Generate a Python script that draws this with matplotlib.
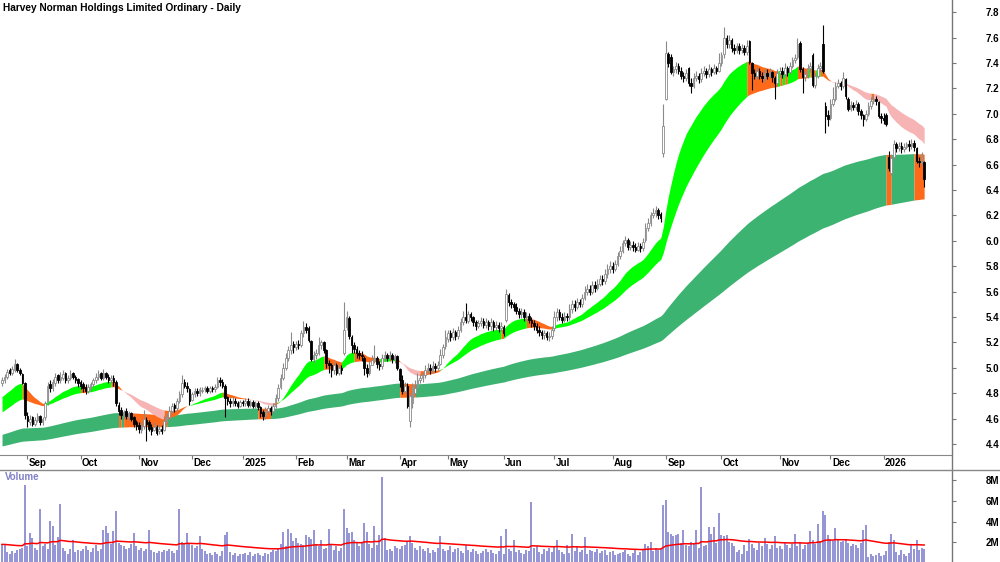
import numpy as np
import pandas as pd
import matplotlib
matplotlib.use("Agg")
import matplotlib.pyplot as plt
from matplotlib.lines import Line2D

plt.rcParams["font.family"] = ["Liberation Sans", "DejaVu Sans"]

#Trading days (ASX) shown on the chart
holidays = ["2024-12-25", "2024-12-26", "2025-01-01", "2025-01-27", "2025-04-18", "2025-04-21",
            "2025-04-25", "2025-06-09", "2025-12-25", "2025-12-26", "2026-01-01", "2026-01-26"]
dates = pd.bdate_range("2024-08-19", "2026-01-27")
dates = dates[~dates.isin(pd.to_datetime(holidays))]

#Daily prices in cents, one line per month (Aug 2024 ... Jan 2026)
opens = [
    488, 490, 493, 498, 496, 498, 503, 498, 495, 488,
    462, 457, 461, 456, 459, 462, 457, 461, 473, 487, 484, 488, 494, 490, 492, 496, 490, 492, 496, 493, 491,
    489, 487, 485, 482, 484, 487, 490, 493, 496, 492, 496, 493, 490, 492, 489, 471, 467, 462, 466, 461, 464, 461, 457,
    455, 451, 454, 459, 457, 453, 451, 453, 450, 452, 451, 458, 461, 466, 471, 468, 474, 479, 489, 486, 483,
    475, 479, 482, 480, 482, 483, 484, 482, 484, 483, 485, 490, 489, 486, 477, 474, 472, 474, 472, 470,
    473, 472, 474, 471, 473, 470, 472, 469, 465, 462, 466, 468, 466, 470, 476, 485, 492, 500, 508, 514, 519,
    516, 519, 518, 527, 532, 531, 521, 507, 510, 512, 518, 520, 514, 504, 502, 498, 502, 496, 500, 512,
    532, 539, 524, 518, 515, 512, 510, 508, 500, 496, 502, 506, 508, 503, 501, 508, 510, 508, 510, 507, 509,
    499, 490, 482, 486, 458, 472, 480, 485, 490, 492, 494, 498, 500, 498, 501, 500, 503, 510, 517,
    523, 527, 524, 528, 525, 530, 536, 540, 537, 542, 540, 536, 533, 535, 537, 534, 536, 533, 536, 532, 534, 531,
    532, 538, 557, 552, 550, 548, 545, 542, 544, 540, 541, 538, 535, 533, 530, 528, 526, 527, 524, 525,
    531, 540, 544, 540, 538, 541, 540, 546, 550, 548, 552, 550, 555, 560, 562, 560, 565, 563, 566, 570, 568, 574, 578,
    580, 578, 582, 588, 592, 598, 601, 595, 597, 595, 593, 596, 594, 601, 610, 614, 620, 622, 624, 621, 669,
    712, 747, 745, 733, 735, 738, 734, 730, 728, 736, 724, 722, 728, 730, 727, 732, 734, 731, 735, 733, 736, 734,
    740, 747, 760, 755, 758, 752, 750, 753, 750, 752, 749, 757, 740, 732, 730, 734, 730, 728, 732, 730, 733, 728, 724,
    732, 734, 731, 736, 733, 738, 742, 745, 756, 735, 729, 731, 736, 746, 723, 730, 736, 755, 706, 699,
    697, 708, 712, 722, 724, 722, 727, 712, 704, 707, 705, 708, 702, 699, 696, 700, 706, 710, 712, 709, 698,
    697, 699, 666, 653, 666, 676, 673, 675, 672, 674, 676, 675, 677, 673, 663, 661, 662,
]
highs = [
    493, 495, 499, 500, 501, 507, 504, 500, 496, 489,
    465, 463, 462, 461, 464, 463, 461, 474, 489, 490, 491, 496, 495, 497, 498, 497, 494, 498, 497, 494, 492,
    490, 489, 487, 487, 489, 492, 496, 498, 497, 499, 497, 495, 494, 494, 490, 473, 469, 467, 468, 466, 465, 462, 459,
    457, 457, 467, 461, 459, 456, 457, 455, 456, 455, 462, 464, 470, 472, 472, 476, 482, 494, 491, 489, 484,
    481, 484, 484, 485, 485, 486, 486, 486, 486, 487, 493, 493, 491, 487, 478, 476, 477, 476, 474, 475,
    475, 476, 476, 475, 475, 474, 474, 470, 467, 469, 471, 470, 472, 479, 487, 495, 504, 512, 517, 528, 521,
    521, 522, 530, 537, 535, 533, 522, 513, 515, 524, 522, 521, 515, 506, 504, 505, 504, 503, 502, 552,
    545, 541, 526, 520, 517, 514, 513, 509, 503, 505, 510, 518, 509, 505, 511, 513, 512, 513, 512, 511, 510,
    500, 494, 489, 488, 480, 488, 490, 496, 495, 497, 502, 504, 503, 505, 504, 505, 515, 519, 530,
    530, 530, 531, 530, 533, 539, 545, 551, 545, 544, 541, 538, 538, 540, 539, 539, 538, 539, 538, 537, 536, 536,
    534, 562, 559, 554, 552, 551, 547, 547, 546, 544, 543, 540, 538, 535, 533, 530, 530, 529, 528, 533,
    545, 547, 546, 543, 544, 543, 550, 553, 553, 555, 554, 558, 564, 566, 565, 568, 568, 570, 573, 573, 578, 582, 584,
    583, 585, 591, 596, 601, 604, 602, 600, 600, 598, 599, 598, 602, 614, 618, 623, 626, 627, 626, 623, 708,
    757, 749, 747, 738, 741, 740, 737, 733, 735, 737, 728, 732, 734, 732, 736, 738, 736, 739, 737, 739, 738, 748,
    749, 768, 762, 762, 760, 755, 756, 756, 755, 754, 758, 758, 741, 735, 737, 736, 733, 735, 735, 736, 734, 730, 735,
    737, 737, 740, 738, 741, 745, 747, 760, 757, 737, 734, 739, 741, 748, 732, 739, 741, 770, 709, 703,
    712, 721, 725, 727, 726, 733, 728, 713, 710, 709, 711, 709, 704, 700, 703, 709, 713, 715, 714, 710, 701,
    701, 701, 671, 668, 679, 678, 678, 678, 677, 678, 679, 680, 679, 674, 666, 670, 663,
]
lows = [
    486, 488, 491, 494, 494, 497, 497, 494, 487, 460,
    453, 455, 454, 454, 457, 455, 455, 459, 471, 481, 482, 486, 488, 488, 490, 488, 488, 490, 491, 488, 485,
    483, 481, 479, 480, 482, 485, 488, 490, 490, 490, 491, 488, 488, 486, 470, 463, 460, 460, 460, 459, 458, 453, 451,
    449, 449, 452, 442, 450, 447, 450, 447, 448, 448, 450, 456, 459, 464, 465, 466, 472, 477, 484, 481, 471,
    474, 477, 478, 478, 480, 481, 480, 480, 481, 481, 484, 486, 484, 461, 471, 469, 470, 470, 468, 469,
    470, 470, 469, 469, 468, 468, 467, 461, 459, 460, 464, 463, 464, 468, 474, 483, 490, 498, 505, 511, 512,
    514, 515, 516, 524, 527, 520, 505, 504, 507, 510, 515, 512, 500, 496, 493, 495, 494, 494, 495, 510,
    530, 523, 512, 512, 508, 507, 505, 494, 493, 494, 503, 504, 500, 498, 499, 505, 505, 505, 504, 504, 498,
    485, 479, 480, 468, 453, 468, 478, 483, 488, 489, 492, 496, 495, 496, 497, 498, 502, 508, 515,
    520, 521, 522, 522, 523, 528, 534, 535, 535, 537, 533, 530, 531, 533, 531, 531, 530, 530, 529, 530, 528, 529,
    525, 536, 549, 547, 545, 542, 539, 539, 537, 537, 535, 532, 530, 527, 525, 523, 523, 522, 521, 523,
    529, 537, 538, 535, 536, 537, 538, 543, 545, 546, 548, 548, 553, 557, 557, 558, 560, 561, 564, 565, 566, 571, 575,
    575, 576, 580, 586, 590, 596, 593, 593, 592, 591, 592, 591, 592, 599, 608, 612, 618, 619, 617, 615, 666,
    711, 737, 731, 730, 732, 731, 727, 725, 726, 722, 716, 720, 726, 724, 725, 730, 728, 729, 730, 731, 731, 733,
    738, 744, 752, 752, 749, 747, 748, 747, 748, 746, 746, 739, 719, 727, 727, 727, 725, 725, 727, 728, 725, 712, 722,
    729, 728, 729, 730, 731, 736, 740, 743, 733, 716, 726, 728, 733, 721, 720, 728, 733, 732, 685, 690,
    695, 706, 710, 720, 719, 720, 712, 702, 702, 703, 703, 699, 696, 690, 694, 698, 704, 708, 707, 697, 693,
    692, 690, 655, 652, 664, 670, 671, 669, 670, 672, 671, 672, 671, 661, 658, 660, 642,
]
closes = [
    490, 493, 497, 496, 499, 503, 498, 496, 488, 463,
    458, 460, 456, 459, 462, 457, 460, 472, 486, 484, 489, 493, 490, 493, 495, 490, 492, 495, 493, 490, 488,
    486, 484, 482, 485, 487, 490, 493, 495, 492, 496, 493, 490, 492, 489, 472, 466, 463, 465, 462, 464, 460, 456, 454,
    452, 455, 460, 456, 452, 450, 453, 449, 452, 450, 458, 461, 466, 470, 468, 474, 479, 488, 486, 484, 474,
    479, 482, 480, 483, 482, 484, 482, 484, 483, 485, 490, 489, 486, 476, 474, 472, 474, 472, 470, 473,
    472, 474, 471, 473, 470, 472, 469, 464, 462, 466, 468, 466, 470, 476, 484, 492, 500, 508, 514, 518, 516,
    519, 518, 527, 532, 530, 522, 507, 510, 512, 518, 520, 514, 504, 502, 498, 502, 496, 500, 498, 530,
    540, 525, 518, 515, 512, 510, 509, 500, 496, 502, 506, 508, 503, 501, 508, 510, 508, 510, 507, 509, 500,
    490, 482, 486, 470, 478, 486, 484, 490, 492, 494, 498, 500, 498, 501, 500, 502, 510, 516, 524,
    527, 524, 528, 525, 530, 536, 540, 538, 542, 540, 536, 533, 535, 537, 534, 536, 533, 536, 532, 534, 531, 533,
    527, 558, 552, 550, 548, 545, 542, 544, 540, 541, 538, 535, 533, 530, 528, 526, 527, 524, 525, 530,
    540, 544, 540, 538, 541, 540, 546, 550, 548, 552, 550, 555, 560, 562, 560, 565, 563, 566, 570, 568, 574, 578, 580,
    578, 582, 588, 592, 598, 601, 595, 597, 595, 593, 596, 594, 599, 610, 614, 620, 622, 624, 620, 618, 690,
    748, 740, 733, 735, 738, 734, 730, 728, 732, 724, 722, 728, 730, 727, 732, 734, 731, 735, 733, 736, 734, 740,
    746, 760, 755, 758, 752, 750, 753, 750, 752, 749, 753, 741, 732, 730, 734, 730, 728, 732, 730, 733, 729, 724, 732,
    734, 731, 736, 733, 738, 742, 744, 755, 735, 729, 731, 736, 738, 723, 730, 736, 738, 734, 698, 696,
    708, 712, 722, 724, 722, 728, 714, 704, 707, 705, 708, 702, 699, 696, 700, 706, 710, 712, 710, 698, 697,
    695, 692, 657, 665, 676, 673, 675, 672, 674, 676, 675, 677, 674, 663, 662, 668, 649,
]

#Daily volume in millions of shares
volumes = [
    1.8, 1.7, 1.1, 0.9, 1.2, 1.0, 1.3, 1.4, 1.5, 7.5,
    1.6, 2.9, 2.4, 1.5, 1.3, 5.2, 1.6, 1.8, 1.4, 4.1, 3.6, 1.7, 2.5, 5.7, 1.5, 1.2, 0.9, 1.4, 2.2, 1.1, 1.3,
    1.2, 1.4, 1.6, 1.3, 1.1, 1.5, 1.7, 1.2, 1.4, 3.2, 3.6, 2.9, 1.8, 3.1, 5.0, 1.9, 1.7, 1.6, 1.4, 1.5, 1.8, 2.9, 1.6,
    1.3, 1.5, 1.2, 1.4, 3.2, 1.3, 1.1, 1.0, 1.2, 1.1, 1.3, 1.2, 1.4, 1.2, 1.0, 1.3, 5.2, 2.0, 1.9, 2.9, 1.8,
    1.7, 1.5, 1.6, 2.6, 1.4, 1.2, 0.9, 1.0, 0.8, 1.1, 0.9, 0.7, 1.2, 2.7, 3.0, 1.1, 0.8, 1.0, 0.7, 0.9,
    0.9, 1.0, 0.8, 1.1, 0.7, 0.9, 1.0, 0.8, 0.7, 1.0, 0.9, 1.1, 1.3, 1.2, 1.5, 1.8, 3.0, 1.6, 3.3, 2.9, 2.1,
    2.4, 1.9, 1.8, 1.7, 2.7, 2.5, 2.3, 3.2, 1.8, 1.6, 2.2, 1.4, 1.5, 3.3, 1.7, 1.3, 1.6, 1.2, 1.5, 5.2,
    3.4, 2.9, 3.0, 2.2, 1.9, 1.6, 2.0, 3.9, 3.0, 1.8, 1.5, 3.6, 1.7, 2.7, 8.3, 2.4, 1.3, 1.4, 1.2, 1.6, 1.5,
    1.4, 1.6, 1.7, 2.0, 2.6, 1.9, 1.5, 1.3, 1.6, 1.4, 1.2, 1.5, 1.0, 1.3, 1.1, 1.5, 2.6, 1.4, 1.2,
    1.3, 1.6, 1.1, 1.4, 1.5, 1.2, 1.0, 1.7, 1.3, 1.1, 1.4, 1.2, 0.9, 1.0, 1.2, 1.4, 1.1, 1.3, 1.0, 0.9, 1.2, 2.6,
    0.9, 3.3, 1.4, 1.2, 2.2, 1.1, 1.3, 1.0, 0.9, 1.3, 1.2, 5.9, 1.5, 1.6, 1.1, 0.9, 1.4, 1.2, 1.5, 1.1,
    1.6, 2.2, 1.3, 1.1, 0.9, 1.7, 1.0, 2.8, 1.2, 1.6, 1.1, 1.3, 2.5, 0.9, 1.3, 1.2, 1.1, 1.4, 1.0, 1.2, 1.3, 0.8, 1.1,
    1.2, 0.8, 0.9, 1.0, 1.1, 1.3, 0.9, 0.7, 1.0, 1.3, 0.8, 1.1, 1.4, 1.8, 1.6, 2.0, 1.2, 1.5, 1.3, 1.4, 5.6,
    6.1, 3.0, 2.8, 2.6, 2.7, 2.8, 1.9, 3.2, 1.7, 1.6, 2.0, 1.8, 3.2, 1.5, 7.3, 1.6, 1.7, 3.5, 2.8, 3.5, 1.9, 4.8,
    2.7, 2.6, 2.7, 2.0, 1.9, 1.6, 1.1, 1.3, 0.9, 1.7, 1.2, 2.3, 1.8, 1.5, 1.3, 1.9, 1.6, 2.4, 1.8, 1.4, 1.7, 2.6, 1.5,
    1.6, 1.4, 1.9, 1.7, 1.5, 1.8, 2.8, 1.6, 2.0, 1.4, 1.7, 1.9, 3.1, 2.2, 1.8, 3.8, 2.1, 5.0, 4.6, 2.7,
    2.3, 2.1, 3.4, 2.2, 2.0, 2.1, 2.3, 1.9, 1.6, 1.8, 1.7, 1.5, 1.9, 3.2, 3.7, 0.6, 0.9, 0.7, 0.8, 1.0, 0.7,
    0.8, 1.2, 2.0, 2.8, 2.2, 1.1, 0.8, 1.3, 0.9, 0.7, 1.0, 1.8, 1.4, 2.2, 1.3, 1.5, 1.4,
]

short_periods = [20, 40]
short_seeds = [4.76, 4.64]
long_periods = [150, 240]
long_seeds = [4.47, 4.38]
vol_ma_period = 60
vol_ma_seed = 1.8

n = len(dates)
assert len(opens) == len(highs) == len(lows) == len(closes) == len(volumes) == n, (n, len(opens), len(highs), len(lows), len(closes), len(volumes))

o = np.array(opens) / 100
h = np.array(highs) / 100
l = np.array(lows) / 100
c = np.array(closes) / 100
v = np.array(volumes) * 1e6
x = np.arange(n)


def ema(values, period, seed):
    a = 2.0 / (period + 1)
    out = []
    e = seed
    for val in values:
        e = e + a * (val - e)
        out.append(e)
    return np.array(out)


def ribbon(ax, fast, slow, fast_seed, up_color, down_color, mixed_color):
    #green: fast above slow and still rising, pink: fast below slow and falling, else orange
    lo = np.minimum(fast, slow)
    hi = np.maximum(fast, slow)
    step = np.diff(np.r_[fast_seed, fast])
    cols = np.where((fast > slow) & (step > 0), up_color,
                    np.where((fast < slow) & (step < 0), down_color, mixed_color))
    start = 0
    for i in range(1, n + 1):
        if i == n or cols[i] != cols[start]:
            a = max(start - 1, 0)
            ax.fill_between(x[a:i], lo[a:i], hi[a:i], color=cols[start], lw=0, zorder=1)
            start = i


fig = plt.figure(figsize=(10, 5.62), dpi=100)
W, H = 1000.0, 562.0
ax = fig.add_axes([0, (H - 455) / H, 952 / W, 455 / H])
axv = fig.add_axes([0, 0, 952 / W, (H - 470) / H])

#Moving average ribbons
s_fast, s_slow = [ema(c, p, s) for p, s in zip(short_periods, short_seeds)]
l_fast, l_slow = [ema(c, p, s) for p, s in zip(long_periods, long_seeds)]
ribbon(ax, l_fast, l_slow, long_seeds[0], "#3cb371", "#ff6a1a", "#ff6a1a")
ribbon(ax, s_fast, s_slow, short_seeds[0], "#00ff00", "#f6b4b4", "#ff6a1a")

#Candles
up = c >= o
wick_col = np.where(up, "#8a8a8a", "#000000")
ax.vlines(x, l, h, colors=wick_col, lw=0.8, zorder=3)
body = np.maximum(np.abs(c - o), 0.004)
ax.bar(x, body, bottom=np.minimum(o, c), width=0.62,
       color=np.where(up, "white", "black"), edgecolor=wick_col, lw=0.6, zorder=4)

ax.set_xlim(-0.8, 375)
ax.set_ylim(4.313, 7.896)
ax.set_yticks(np.arange(4.4, 7.81, 0.2))
ax.set_yticklabels([f"{t:.1f}" for t in np.arange(4.4, 7.81, 0.2)])

#Month ticks and labels
months = dates.to_period("M")
starts = [i for i in range(1, n) if months[i] != months[i - 1]]
labels = [str(dates[i].year) if dates[i].month == 1 else dates[i].strftime("%b") for i in starts]
ax.set_xticks(starts)
ax.set_xticklabels([])
for i, lab in zip(starts, labels):
    ax.annotate(lab, (i, 0), xycoords=("data", "axes fraction"), xytext=(1.5, -7.5),
                textcoords="offset pixels", ha="left", va="center", fontsize=7, fontweight="bold")

#Volume
axv.vlines(x, 0, v, colors="#8b8bd3", lw=1.3, zorder=2)
axv.plot(x, ema(volumes, vol_ma_period, vol_ma_seed) * 1e6, color="#ff0000", lw=1.1, zorder=3)
axv.set_xlim(-0.8, 375)
axv.set_ylim(0.1e6, 8.99e6)
axv.set_yticks([2e6, 4e6, 6e6, 8e6])
axv.set_yticklabels(["2M", "4M", "6M", "8M"])
axv.set_xticks([])
axv.text(0.005, 0.92, "Volume", transform=axv.transAxes, color="#8080c8",
         fontsize=7, fontweight="bold", va="center")

for a_ in (ax, axv):
    for s in ("top", "left", "right"):
        a_.spines[s].set_visible(False)
    a_.yaxis.tick_right()
    a_.tick_params(axis="y", direction="out", length=3, color="#777777", pad=31,
                   labelsize=7, width=0.8)
    for t in a_.get_yticklabels():
        t.set_fontweight("bold")
        t.set_horizontalalignment("right")
ax.spines["bottom"].set_color("#888888")
axv.spines["bottom"].set_visible(False)
ax.tick_params(axis="x", direction="out", length=3, color="#777777", width=0.8)

fig.add_artist(Line2D([952 / W, 952 / W], [0, 1], color="#777777", lw=1.0))
fig.add_artist(Line2D([0, 1], [(H - 470) / H] * 2, color="#888888", lw=1.0))

fig.text(3 / W, 1 - 8 / H, "Harvey Norman Holdings Limited Ordinary - Daily",
         fontsize=7.3, fontweight="bold", va="center", ha="left")

fig.savefig("out.png", dpi=100)
